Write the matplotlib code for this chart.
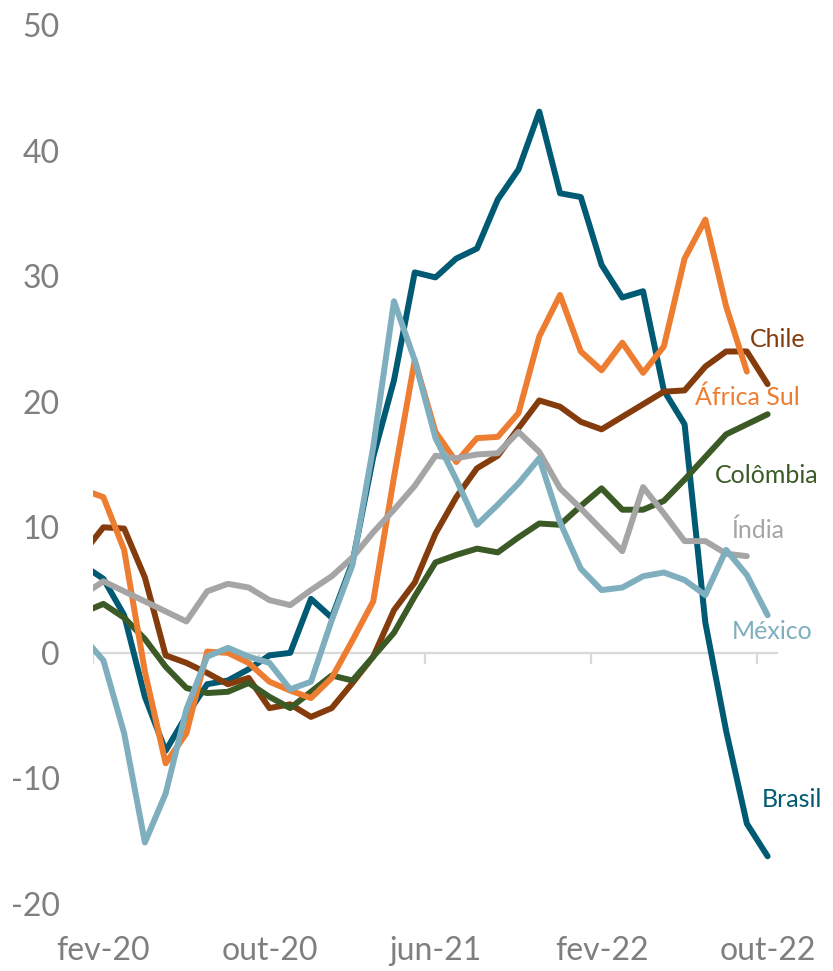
import matplotlib
matplotlib.use("Agg")
import matplotlib.pyplot as plt
import numpy as np

plt.rcParams['font.family'] = ['Lato', 'DejaVu Sans']
plt.rcParams['axes.unicode_minus'] = False

# meses: jan-20 (fora do eixo, cortado) ate out-22
meses = ["jan-20",
         "fev-20", "mar-20", "abr-20", "mai-20", "jun-20", "jul-20", "ago-20", "set-20",
         "out-20", "nov-20", "dez-20", "jan-21", "fev-21", "mar-21", "abr-21", "mai-21",
         "jun-21", "jul-21", "ago-21", "set-21", "out-21", "nov-21", "dez-21", "jan-22",
         "fev-22", "mar-22", "abr-22", "mai-22", "jun-22", "jul-22", "ago-22", "set-22",
         "out-22"]
rotulos_x = ["fev-20", "out-20", "jun-21", "fev-22", "out-22"]

nan = np.nan
brasil = [7.0, 5.9, 3.0, -3.5, -7.8, -5.0, -2.5, -2.2, -1.3, -0.2, 0.0, 4.3, 2.8,
          7.2, 15.6, 21.7, 30.3, 29.9, 31.4, 32.2, 36.1, 38.5, 43.1, 36.6, 36.3,
          30.9, 28.3, 28.8, 20.9, 18.2, 2.4, -6.2, -13.6, -16.2]
chile = [7.9, 10.0, 9.9, 6.0, -0.2, -0.8, -1.6, -2.5, -2.0, -4.4, -4.1, -5.1, -4.4,
         -2.4, -0.3, 3.4, 5.6, 9.5, 12.4, 14.7, 15.7, 17.9, 20.1, 19.6, 18.4,
         17.8, 18.8, 19.8, 20.8, 20.9, 22.8, 24.0, 24.0, 21.4]
africa_sul = [13.0, 12.4, 8.2, -1.5, -8.8, -6.4, 0.1, 0.0, -0.8, -2.3, -3.0, -3.6, -2.0,
              1.0, 4.1, 14.0, 23.3, 17.6, 15.2, 17.1, 17.2, 19.1, 25.2, 28.5, 24.0,
              22.5, 24.7, 22.3, 24.4, 31.4, 34.5, 27.6, 22.4, nan]
colombia = [3.2, 3.9, 2.8, 1.1, -1.1, -2.8, -3.2, -3.1, -2.4, -3.5, -4.4, -3.1, -1.8,
            -2.2, -0.3, 1.6, 4.5, 7.2, 7.8, 8.3, 8.0, 9.2, 10.3, 10.2, 11.7,
            13.1, 11.4, 11.4, 12.1, 13.8, 15.6, 17.4, 18.2, 19.0]
india = [4.6, 5.7, 4.9, 4.1, 3.3, 2.5, 4.9, 5.5, 5.2, 4.2, 3.8, 5.0, 6.1,
         7.6, 9.6, 11.4, 13.3, 15.7, 15.5, 15.8, 15.9, 17.6, 16.0, 13.1, 11.5,
         9.8, 8.1, 13.2, 11.1, 8.9, 8.9, 7.9, 7.7, nan]
mexico = [1.3, -0.6, -6.4, -15.1, -11.2, -4.5, -0.3, 0.4, -0.3, -0.8, -2.9, -2.3, 2.6,
          7.0, 16.4, 28.0, 23.3, 17.1, 13.8, 10.2, 11.8, 13.5, 15.5, 10.4, 6.7,
          5.0, 5.2, 6.1, 6.4, 5.8, 4.6, 8.2, 6.2, 3.0]

series = [
    ("Brasil", brasil, "#005A73", (31.7, -12.24)),
    ("Chile", chile, "#843C0C", (31.15, 24.39)),
    ("Colômbia", colombia, "#3B5A26", (29.46, 13.53)),
    ("África Sul", africa_sul, "#ED7D31", (28.5, 19.75)),
    ("Índia", india, "#A5A5A5", (30.26, 9.16)),
    ("México", mexico, "#7FAFBE", (30.28, 1.11)),
]

x = np.arange(len(meses)) - 1   # fev-20 = 0

fig = plt.figure(figsize=(8.33, 9.71), dpi=100)
ax = fig.add_axes([93 / 833, 67 / 971, 685 / 833, 879 / 971])

# eixo horizontal no zero com marcas entre categorias
ax.axhline(0, color="#D9D9D9", lw=1.6, zorder=1)
ax.vlines(np.arange(-0.5, 32, 8), -0.85, 0, color="#D9D9D9", lw=1.6, zorder=1)

for nome, dados, cor, pos in series:
    ax.plot(x, dados, color=cor, lw=4.3, solid_capstyle="round",
            solid_joinstyle="round", zorder=3)
    ax.text(pos[0], pos[1], nome, color=cor, fontsize=18, ha="left",
            va="baseline")

ax.set_xlim(-0.5, 32.5)
ax.set_ylim(-20, 50)
ax.set_yticks(range(-20, 51, 10))
ax.set_xticks([0, 8, 16, 24, 32])
ax.set_xticklabels(rotulos_x)
ax.tick_params(axis="y", length=0, pad=24, labelsize=23, labelcolor="#7F7F7F")
ax.tick_params(axis="x", length=0, pad=23, labelsize=23, labelcolor="#7F7F7F")
for s in ax.spines.values():
    s.set_visible(False)

fig.savefig("out.png", dpi=100)
